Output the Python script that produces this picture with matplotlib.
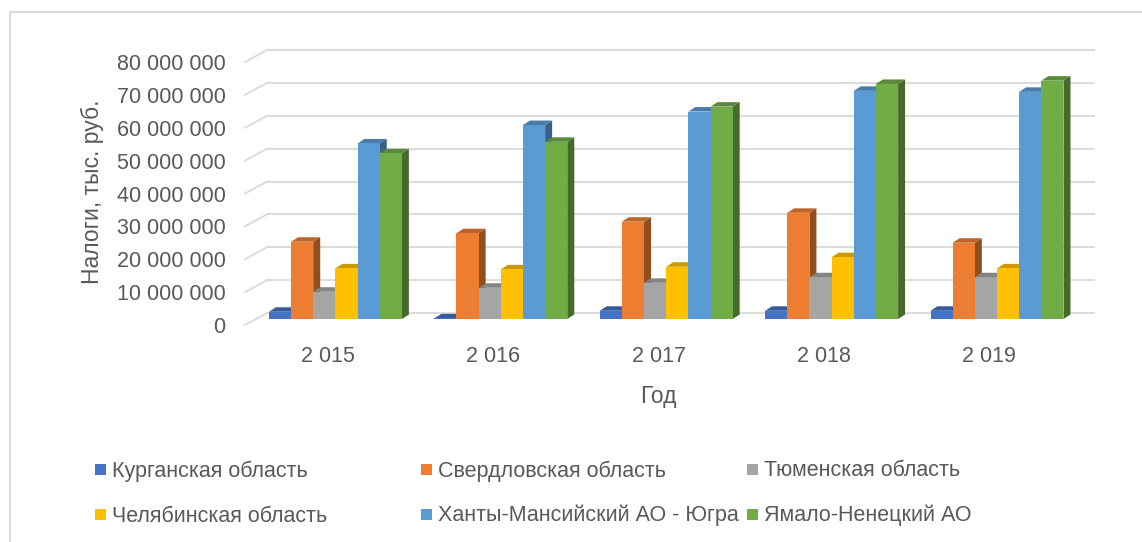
import matplotlib
matplotlib.use('Agg')
import matplotlib.pyplot as plt
from matplotlib.patches import Polygon, Rectangle
from matplotlib.lines import Line2D
from matplotlib.colors import to_rgb
import numpy as np

plt.rcParams['font.family'] = ['Liberation Sans', 'DejaVu Sans']

# Data (тыс. руб.)
years = ['2 015', '2 016', '2 017', '2 018', '2 019']
regions = ['Курганская область', 'Свердловская область', 'Тюменская область',
           'Челябинская область', 'Ханты-Мансийский АО - Югра', 'Ямало-Ненецкий АО']
kurgan = [2.2e6, 0.2e6, 2.5e6, 2.5e6, 2.5e6]
sverdlovsk = [23.5e6, 26.1e6, 29.6e6, 32.3e6, 23.2e6]
tyumen = [8.3e6, 9.5e6, 11.0e6, 12.7e6, 12.7e6]
chelyabinsk = [15.4e6, 15.1e6, 15.9e6, 18.8e6, 15.4e6]
khmao = [53.4e6, 59.0e6, 63.1e6, 69.4e6, 69.1e6]
yanao = [50.4e6, 53.9e6, 64.6e6, 71.5e6, 72.5e6]
series = [kurgan, sverdlovsk, tyumen, chelyabinsk, khmao, yanao]
colors = ['#4472C4', '#ED7D31', '#A5A5A5', '#FFC000', '#5B9BD5', '#70AD47']
yticks = np.arange(0, 80e6 + 1, 10e6)

W, H = 1142, 542
fig = plt.figure(figsize=(W / 100, H / 100), dpi=100)
fig.patch.set_facecolor('white')

# pixel geometry of the pseudo-3D plot area
px_per_cat = 165.4
px_per_val = 263 / 80e6
dxh = 11 / px_per_cat      # half wall depth, x
dyh = 6 / px_per_val       # half wall depth, y
bdx = 7 / px_per_cat       # bar depth, x
bdy = 4.5 / px_per_val     # bar depth, y
bw = 0.134                 # bar width
shift = -0.02

x0_px, x1_px = 245, 1094
y0_px, y1_px = 325, 50
ax = fig.add_axes([x0_px / W, 1 - y0_px / H, (x1_px - x0_px) / W, (y0_px - y1_px) / H])
ax.set_xlim(-0.5 - dxh, 4.5 + dxh)
ax.set_ylim(-dyh, 80e6 + dyh)
for s in ax.spines.values():
    s.set_visible(False)
ax.tick_params(length=0, colors='#595959')

# gridlines (back wall + left diagonal)
grid_c = '#d9d9d9'
for v in yticks:
    ax.plot([-0.5 + dxh, 4.5 + dxh], [v + dyh, v + dyh], color=grid_c, lw=1.3,
            zorder=1, clip_on=False)
    ax.plot([-0.5 - dxh, -0.5 + dxh], [v - dyh, v + dyh], color=grid_c, lw=1.3,
            zorder=1, clip_on=False)

ax.set_yticks(yticks - dyh)
ax.set_yticklabels([f'{v:,.0f}'.replace(',', ' ') for v in yticks], fontsize=15.5)
ax.tick_params(axis='y', pad=14)
ax.set_xticks(np.arange(len(years)) - dxh)
ax.set_xticklabels(years, fontsize=15.5)
ax.tick_params(axis='x', pad=15)


def shade(c, f):
    r, g, b = to_rgb(c)
    return (r * f, g * f, b * f)


z = 2
for i in range(len(years)):
    for j, (vals, c) in enumerate(zip(series, colors)):
        v = vals[i]
        xl = i + shift + (j - 3) * bw
        xr = xl + bw
        ax.add_patch(Polygon([(xr, 0), (xr + bdx, bdy), (xr + bdx, v + bdy), (xr, v)],
                             closed=True, facecolor=shade(c, 0.62), edgecolor='none', zorder=z))
        ax.add_patch(Polygon([(xl, v), (xr, v), (xr + bdx, v + bdy), (xl + bdx, v + bdy)],
                             closed=True, facecolor=shade(c, 0.8), edgecolor='none', zorder=z))
        ax.bar(xl, v, width=bw, align='edge', color=c, edgecolor='none', zorder=z + 0.5)
        z += 1

# axis titles
fig.text(92 / W, 1 - 192 / H, 'Налоги, тыс. руб.', rotation=90, ha='center', va='center',
         fontsize=16.5, color='#595959')
fig.text(658 / W, 1 - 396 / H, 'Год', ha='center', va='center', fontsize=16.5, color='#595959')

# legend
for k, (name, c) in enumerate(zip(regions, colors)):
    col, row = k % 3, k // 3
    mx = 95 + 326 * col
    my = 469 + 45 * row
    fig.patches.append(Rectangle((mx / W, 1 - (my + 6) / H), 11 / W, 11 / H,
                                 transform=fig.transFigure, facecolor=c, edgecolor='none'))
    fig.text((mx + 17) / W, 1 - (my + 7.5) / H, name, ha='left', va='baseline',
             fontsize=15.5, color='#595959')

# chart border (top and left visible)
fig.lines.append(Line2D([10 / W, 10 / W], [0, 1 - 12 / H], transform=fig.transFigure,
                        color='#d9d9d9', lw=1.5))
fig.lines.append(Line2D([10 / W, 1], [1 - 12 / H, 1 - 12 / H], transform=fig.transFigure,
                        color='#d9d9d9', lw=1.5))

fig.savefig('out.png', dpi=100, facecolor='white')
